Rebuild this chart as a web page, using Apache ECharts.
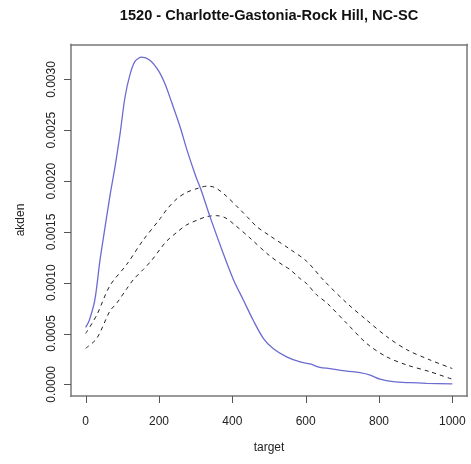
<!DOCTYPE html>
<html>
<head>
<meta charset="utf-8">
<script src="https://cdn.jsdelivr.net/npm/echarts@6/dist/echarts.min.js"></script>
<style>
  html, body { margin: 0; padding: 0; background: #fff; }
  #chart { width: 471px; height: 464px; }
</style>
</head>
<body>
<div id="chart"></div>
<script>
// Kernel density estimate (solid) and its two envelope curves (dashed)
var densX = [0, 10, 25, 39, 53, 66, 80, 94, 107, 121, 135, 153, 175, 198, 216, 235, 257, 276, 300, 316, 339, 375, 403, 430, 457, 485, 512, 548, 585, 612, 639, 666, 712, 748, 776, 803, 839, 885, 930, 1000];
var densY = [0.00056, 0.00063, 0.00083, 0.00122, 0.00155, 0.00185, 0.00214, 0.00247, 0.00282, 0.00305, 0.00318, 0.00322, 0.00319, 0.00309, 0.00296, 0.00277, 0.00254, 0.00231, 0.00205, 0.00190, 0.00165, 0.00129, 0.00103, 0.00083, 0.00063, 0.00045, 0.00035, 0.00027, 0.00022, 0.00020, 0.000167, 0.000155, 0.00013, 0.000114, 0.00009, 0.00005, 0.000026, 0.000016, 0.00001, 0.000004];

var upperX = [0, 30, 66, 112, 157, 203, 221, 250, 276, 307, 330, 350, 375, 421, 448, 467, 503, 557, 603, 650, 712, 767, 821, 876, 939, 1000];
var upperY = [0.00050, 0.00068, 0.00097, 0.00118, 0.00142, 0.00163, 0.00172, 0.00183, 0.00189, 0.00193, 0.00195, 0.00194, 0.00188, 0.00172, 0.00162, 0.00155, 0.00146, 0.00133, 0.00121, 0.00102, 0.00080, 0.00063, 0.00047, 0.00034, 0.00024, 0.000155];

var lowerX = [0, 30, 66, 85, 112, 130, 157, 180, 203, 221, 250, 276, 307, 330, 357, 380, 403, 448, 500, 539, 557, 585, 603, 630, 658, 712, 767, 821, 876, 939, 1000];
var lowerY = [0.000355, 0.00045, 0.00072, 0.00080, 0.00094, 0.00103, 0.00113, 0.00122, 0.00133, 0.00141, 0.00150, 0.00157, 0.00162, 0.00165, 0.00166, 0.00164, 0.00158, 0.00144, 0.00127, 0.00117, 0.00113, 0.00104, 0.00099, 0.00088, 0.00080, 0.00060, 0.00040, 0.00027, 0.00019, 0.000124, 0.00005];

var xTicks = [0, 200, 400, 600, 800, 1000];
var yTicks = [0, 0.0005, 0.0010, 0.0015, 0.0020, 0.0025, 0.0030];

function pairs(xs, ys) {
  return xs.map(function (x, i) { return [x, ys[i]]; });
}
function isTick(list, v) {
  return list.some(function (t) { return Math.abs(t - v) < 1e-9; });
}

var font = 'Liberation Sans, Arial, Helvetica, sans-serif';
var chart = echarts.init(document.getElementById('chart'), null, { renderer: 'canvas' });

var xRange = { min: -40, max: 1040 };
var yRange = { min: -0.000115, max: 0.003344 };
var TICK_LEN = 7;
var frameLine = { show: true, onZero: false, lineStyle: { color: '#777', width: 1.5, cap: 'square' } };

// One side of the plot frame, drawn as a bare axis line
function frameAxis(range, position) {
  return {
    type: 'value', min: range.min, max: range.max, position: position,
    splitLine: { show: false }, axisLine: frameLine,
    axisTick: { show: false }, axisLabel: { show: false }
  };
}

// Outward tick marks on the frame edge, placed through the cartesian scales.
// dir = [dx, dy] is the direction the tick points away from the plot.
function tickSeries(points, dir) {
  return {
    type: 'custom', coordinateSystem: 'cartesian2d', clip: false, silent: true, z: 5,
    encode: { x: 0, y: 1 },
    data: points,
    renderItem: function (params, api) {
      var p = api.coord([api.value(0), api.value(1)]);
      var x = dir[0] === 0 ? Math.round(p[0]) + 0.5 : p[0];
      var y = dir[1] === 0 ? Math.round(p[1]) + 0.5 : p[1];
      return {
        type: 'line',
        shape: { x1: x, y1: y, x2: x + dir[0] * TICK_LEN, y2: y + dir[1] * TICK_LEN },
        style: { stroke: '#555', lineWidth: 1 }
      };
    }
  };
}

chart.setOption({
  animation: false,
  backgroundColor: '#fff',
  grid: { left: 71, right: 4, top: 44.5, bottom: 68, show: false },
  xAxis: [{
    type: 'value', min: xRange.min, max: xRange.max, splitNumber: 5, position: 'bottom',
    splitLine: { show: false },
    axisLine: { show: false, onZero: false },
    axisTick: { show: false },
    axisLabel: {
      margin: 20, fontFamily: font, fontSize: 12, color: '#222',
      showMinLabel: false, showMaxLabel: false,
      formatter: function (v) { return isTick(xTicks, v) ? String(Math.round(v)) : ''; }
    }
  }, frameAxis(xRange, 'bottom'), frameAxis(xRange, 'top')],
  yAxis: [{
    type: 'value', min: yRange.min, max: yRange.max, splitNumber: 7, position: 'left',
    splitLine: { show: false },
    axisLine: { show: false, onZero: false },
    axisTick: { show: false },
    axisLabel: {
      rotate: 90, margin: 13, fontFamily: font, fontSize: 12, color: '#222',
      showMinLabel: false, showMaxLabel: false,
      formatter: function (v) { return isTick(yTicks, v) ? v.toFixed(4) : ''; }
    }
  }, frameAxis(yRange, 'left'), frameAxis(yRange, 'right')],
  graphic: [
    { type: 'text', x: 269, y: 16, style: { text: '1520 - Charlotte-Gastonia-Rock Hill, NC-SC', align: 'center', verticalAlign: 'middle', font: 'bold 14.6px ' + font, fill: '#111' } },
    { type: 'text', x: 269, y: 448, style: { text: 'target', align: 'center', verticalAlign: 'middle', font: '12px ' + font, fill: '#222' } },
    { type: 'text', rotation: Math.PI / 2, x: 21, y: 220, style: { text: 'akden', align: 'center', verticalAlign: 'middle', font: '12px ' + font, fill: '#222' } }
  ],
  series: [
    {
      type: 'line', data: pairs(upperX, upperY), showSymbol: false, smooth: 0.3,
      lineStyle: { color: '#222', width: 1, type: [4, 4] }, z: 2
    },
    {
      type: 'line', data: pairs(lowerX, lowerY), showSymbol: false, smooth: 0.3,
      lineStyle: { color: '#222', width: 1, type: [4, 4] }, z: 2
    },
    {
      type: 'line', data: pairs(densX, densY), showSymbol: false, smooth: 0.3,
      lineStyle: { color: '#6b6bd2', width: 1.3 }, z: 3
    },
    tickSeries(xTicks.map(function (v) { return [v, yRange.min]; }), [0, 1]),
    tickSeries(yTicks.map(function (v) { return [xRange.min, v]; }), [-1, 0])
  ]
});
</script>
</body>
</html>
